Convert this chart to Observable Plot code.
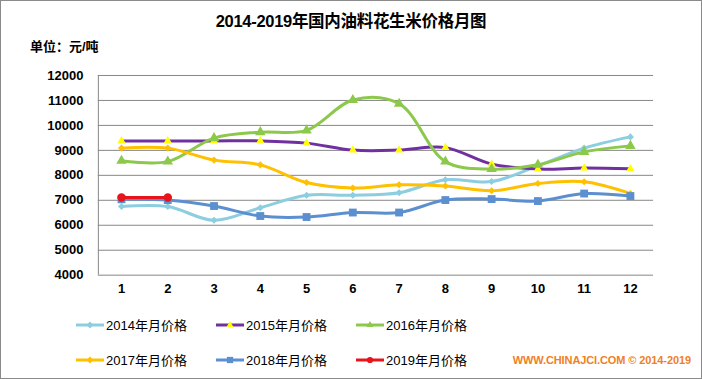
<!DOCTYPE html>
<html>
<head>
<meta charset="utf-8">
<script src="https://cdn.jsdelivr.net/npm/d3@7"></script>
<script src="https://cdn.jsdelivr.net/npm/@observablehq/plot@0.6"></script>
<style>
  html, body { margin: 0; padding: 0; background: #fff; }
  #chart { position: relative; width: 700px; height: 377px; border: 1px solid #8a8a8a; background: #fff; overflow: hidden;
    font-family: "Liberation Sans", "Noto Sans CJK SC", sans-serif; }
  #title { position: absolute; left: 0; width: 700px; top: 7px; text-align: center; font-weight: bold; font-size: 16.5px; color: #000;
    font-family: "Liberation Sans", "Noto Sans CJK SC", sans-serif; letter-spacing: -0.3px; }
  #unit { position: absolute; left: 29px; top: 35px; font-weight: bold; font-size: 13px; color: #000; }
  #plot { position: absolute; left: -1px; top: 59px; }
  #legend { position: absolute; left: 0; top: 0; width: 700px; height: 377px; pointer-events: none; }
  .item { position: absolute; display: flex; align-items: center; font-size: 13px; color: #000; font-family: "Liberation Sans", "Noto Sans CJK SC", sans-serif; }
  .item svg { margin-right: 1px; }
  #footer { position: absolute; right: 10px; top: 353px; font-weight: bold; font-size: 11px; color: #F07F25; letter-spacing: -0.1px; }
</style>
</head>
<body>
<div id="chart">
  <div id="title"></div>
  <div id="unit"></div>
  <div id="plot"></div>
  <div id="legend"></div>
  <div id="footer"></div>
</div>
<script>
const titleText = "2014-2019年国内油料花生米价格月图";
const unitText = "单位：元/吨";
const footerText = "WWW.CHINAJCI.COM © 2014-2019";

const months = [1, 2, 3, 4, 5, 6, 7, 8, 9, 10, 11, 12];
const yTicks = [4000, 5000, 6000, 7000, 8000, 9000, 10000, 11000, 12000];

const seriesNames = ["2014年月价格", "2015年月价格", "2016年月价格", "2017年月价格", "2018年月价格", "2019年月价格"];
const p2014 = [6750, 6750, 6200, 6700, 7200, 7200, 7300, 7820, 7750, 8380, 9090, 9540];
const p2015 = [9380, 9380, 9380, 9380, 9290, 9010, 9010, 9110, 8450, 8250, 8290, 8260];
const p2016 = [8580, 8550, 9490, 9730, 9800, 11020, 10870, 8550, 8250, 8420, 8940, 9180];
const p2017 = [9090, 9090, 8610, 8420, 7710, 7490, 7620, 7570, 7380, 7670, 7740, 7270];
const p2018 = [7040, 7010, 6770, 6370, 6330, 6510, 6510, 7010, 7050, 6970, 7270, 7170];
const p2019 = [7110, 7110];

const seriesValues = [p2014, p2015, p2016, p2017, p2018, p2019];
const lineColors = ["#8DCDE0", "#7030A0", "#8CC84B", "#FFC000", "#5B8FD0", "#E8141B"];
const markerFill = ["#8DCDE0", "#FFFF00", "#8CC84B", "#FFC000", "#5B8FD0", "#E8141B"];
const markerSymbol = ["diamond2", "triangle2", "triangle2", "diamond2", "square2", "circle"];
const markerR = [3.2, 4, 5, 3.2, 5, 4.2];

document.getElementById("title").textContent = titleText;
document.getElementById("unit").textContent = unitText;
document.getElementById("footer").textContent = footerText;

const data = seriesValues.flatMap((vals, i) => vals.map((v, j) => ({series: seriesNames[i], idx: i, month: months[j], value: v})));

const xDomain = [d3.min(months) - 0.5, d3.max(months) + 0.5];

const marks = [
  Plot.ruleY(yTicks, {stroke: "#878787", strokeWidth: 1}),
  Plot.ruleX([xDomain[0]], {y1: yTicks[0], y2: yTicks[yTicks.length - 1], stroke: "#878787", strokeWidth: 1}),
  Plot.axisY({ticks: yTicks, tickSize: 0, tickPadding: 15, fontWeight: "bold", fontSize: 13, label: null, tickFormat: d => String(d)}),
  Plot.axisX({ticks: months, tickSize: 0, tickPadding: 9, fontWeight: "bold", fontSize: 13, label: null, tickFormat: d => String(d)})
];
seriesNames.forEach((name, i) => {
  const sub = data.filter(d => d.idx === i);
  marks.push(Plot.line(sub, {x: "month", y: "value", stroke: lineColors[i], strokeWidth: 3, curve: "catmull-rom"}));
  marks.push(Plot.dot(sub, {x: "month", y: "value", symbol: markerSymbol[i], r: markerR[i], fill: markerFill[i], stroke: "none"}));
});

const plot = Plot.plot({
  width: 702,
  height: 246,
  marginTop: 15,
  marginBottom: 31,
  marginLeft: 98,
  marginRight: 48,
  style: {background: "transparent", color: "#000", fontFamily: "Liberation Sans, sans-serif", overflow: "visible"},
  x: {type: "linear", domain: xDomain},
  y: {domain: [yTicks[0], yTicks[yTicks.length - 1]]},
  marks
});
document.getElementById("plot").appendChild(plot);

// legend
const legend = document.getElementById("legend");
const symbolPaths = {
  diamond2: d3.symbol(d3.symbolDiamond2, 30)(),
  triangle2: d3.symbol(d3.symbolTriangle2, 34)(),
  square2: d3.symbol(d3.symbolSquare2, 50)(),
  circle: d3.symbol(d3.symbolCircle, 30)()
};
seriesNames.forEach((name, i) => {
  const col = i % 3, row = Math.floor(i / 3);
  const div = document.createElement("div");
  div.className = "item";
  div.style.left = (74 + col * 140) + "px";
  div.style.top = (314 + row * 35) + "px";
  div.innerHTML = `<svg width="30" height="16"><line x1="1" x2="29" y1="8" y2="8" stroke="${lineColors[i]}" stroke-width="3"/>` +
    `<path transform="translate(15,8)" d="${symbolPaths[markerSymbol[i]]}" fill="${markerFill[i]}"/></svg><span>${name}</span>`;
  legend.appendChild(div);
});
</script>
</body>
</html>
